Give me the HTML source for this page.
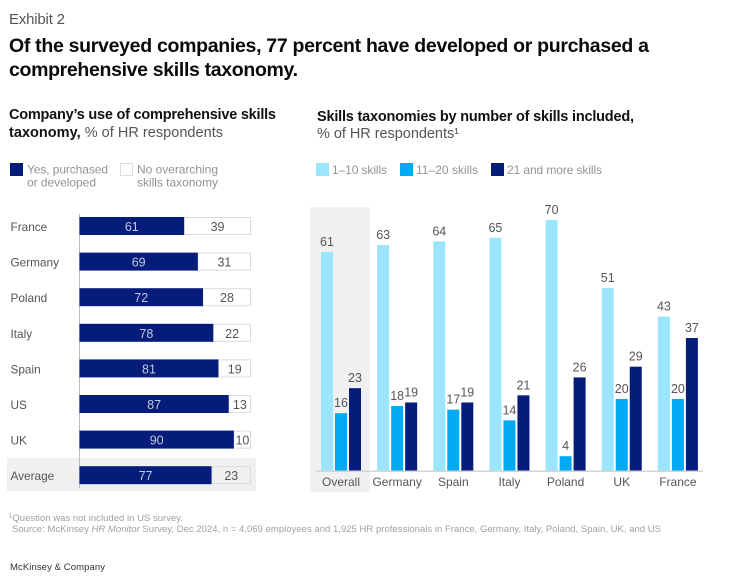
<!DOCTYPE html>
<html lang="en">
<head>
<meta charset="utf-8">
<title>Exhibit 2</title>
<style>
html,body{margin:0;padding:0;background:#fff}
body{width:750px;height:583px;overflow:hidden;position:relative}
svg{position:absolute;left:0;top:0}
text{font-family:"Liberation Sans",sans-serif}
</style>
</head>
<body>
<svg id="chart" width="750" height="583" viewBox="0 0 750 583" xmlns="http://www.w3.org/2000/svg">
  <text x="9" y="24" font-size="15" fill="#555" textLength="56" lengthAdjust="spacing">Exhibit 2</text>
  <text x="9" y="52" font-size="19.5" font-weight="700" fill="#0a0a0a" textLength="640" lengthAdjust="spacing">Of the surveyed companies, 77 percent have developed or purchased a</text>
  <text x="9" y="76" font-size="19.5" font-weight="700" fill="#0a0a0a" textLength="289" lengthAdjust="spacing">comprehensive skills taxonomy.</text>

  <text x="9" y="119" font-size="14.5" font-weight="700" fill="#111" textLength="267" lengthAdjust="spacing">Company’s use of comprehensive skills</text>
  <text x="9" y="137" font-size="14.5" fill="#555" textLength="214" lengthAdjust="spacing"><tspan font-weight="700" fill="#111">taxonomy,</tspan> % of HR respondents</text>

  <rect x="10" y="163" width="13" height="13" fill="#051c7a"/>
  <text x="27" y="173.5" font-size="12" fill="#939393" textLength="81" lengthAdjust="spacing">Yes, purchased</text>
  <text x="27" y="186.5" font-size="12" fill="#939393" textLength="69" lengthAdjust="spacing">or developed</text>
  <rect x="120.5" y="163.5" width="12" height="12" fill="#fff" stroke="#ddd"/>
  <text x="137" y="173.5" font-size="12" fill="#939393" textLength="81" lengthAdjust="spacing">No overarching</text>
  <text x="137" y="186.5" font-size="12" fill="#939393" textLength="81" lengthAdjust="spacing">skills taxonomy</text>

  <text x="317" y="121" font-size="14.5" font-weight="700" fill="#111" textLength="317" lengthAdjust="spacing">Skills taxonomies by number of skills included,</text>
  <text x="317" y="138" font-size="14.5" fill="#555" textLength="142" lengthAdjust="spacing">% of HR respondents¹</text>

  <rect x="316" y="163" width="13" height="13" fill="#9be6fe"/>
  <text x="332" y="174" font-size="12" fill="#939393" textLength="55" lengthAdjust="spacing">1–10 skills</text>
  <rect x="400" y="163" width="13" height="13" fill="#00a9f4"/>
  <text x="416" y="174" font-size="12" fill="#939393" textLength="62" lengthAdjust="spacing">11–20 skills</text>
  <rect x="491" y="163" width="13" height="13" fill="#051c7a"/>
  <text x="507" y="174" font-size="12" fill="#939393" textLength="95" lengthAdjust="spacing">21 and more skills</text>

  <rect x="7" y="458" width="249" height="33" fill="#f0f0f0"/>
  <rect x="310" y="207" width="60" height="285" fill="#f0f0f0"/>
  <line x1="79.5" x2="79.5" y1="214" y2="488" stroke="#bdbdbd" stroke-width="1"/>
  <g id="left-chart"></g>
  <g id="right-chart"></g>

  <text x="9" y="521" font-size="9.5" fill="#a0a0a0" textLength="174" lengthAdjust="spacing"><tspan font-size="6" dy="-3">1</tspan><tspan dy="3">Question was not included in US survey.</tspan></text>
  <text x="12" y="532" font-size="9.5" fill="#a0a0a0" textLength="649" lengthAdjust="spacing">Source: McKinsey <tspan font-style="italic">HR Monitor</tspan> Survey, Dec 2024, n = 4,069 employees and 1,925 HR professionals in France, Germany, Italy, Poland, Spain, UK, and US</text>
  <text x="10" y="570" font-size="9.5" fill="#333" textLength="95" lengthAdjust="spacing">McKinsey &amp; Company</text>
</svg>
<script>
const leftCategories = ['France', 'Germany', 'Poland', 'Italy', 'Spain', 'US', 'UK', 'Average'];
const yesValues = [61, 69, 72, 78, 81, 87, 90, 77];
const noValues = [39, 31, 28, 22, 19, 13, 10, 23];

const rightCategories = ['Overall', 'Germany', 'Spain', 'Italy', 'Poland', 'UK', 'France'];
const lowValues = [61, 63, 64, 65, 70, 51, 43];
const midValues = [16, 18, 17, 14, 4, 20, 20];
const highValues = [23, 19, 19, 21, 26, 29, 37];

const NS = 'http://www.w3.org/2000/svg';
const NAVY = '#051c7a';
const SKY = '#00a9f4';
const PALE = '#9be6fe';

function make(parent, tag, attrs, content) {
  const el = document.createElementNS(NS, tag);
  Object.keys(attrs).forEach(function (k) { el.setAttribute(k, attrs[k]); });
  if (content !== undefined) el.textContent = content;
  parent.appendChild(el);
  return el;
}

// left chart axes
const leftX = function (v) { return 79.5 + v * 1.715; };
const leftY = function (i) { return 217 + i * 35.6; };
const leftGroup = document.getElementById('left-chart');

leftCategories.forEach(function (cat, i) {
  const y = leftY(i);
  const yesEnd = leftX(yesValues[i]);
  const noEnd = leftX(yesValues[i] + noValues[i]);

  const label = make(leftGroup, 'text', { x: 10.5, y: y + 14, 'font-size': 11.8, fill: '#555' }, cat);
  
  

  const noBar = make(leftGroup, 'rect', { x: yesEnd, y: y + 0.5, width: noEnd - yesEnd - 0.5, height: 17, fill: 'none', stroke: '#dcdcdc' });
  
  

  const yesBar = make(leftGroup, 'rect', { x: leftX(0), y: y, width: yesEnd - leftX(0), height: 18, fill: NAVY });
  
  

  const yesText = make(leftGroup, 'text', { x: (leftX(0) + yesEnd) / 2, y: y + 14, 'font-size': 12.5, fill: '#c2c8de', 'text-anchor': 'middle' }, yesValues[i]);
  
  

  const noText = make(leftGroup, 'text', { x: (yesEnd + noEnd) / 2, y: y + 14, 'font-size': 12.5, fill: '#555', 'text-anchor': 'middle' }, noValues[i]);
  
  
});

// right chart axes
const rightY = function (v) { return 470.5 - v * 3.58; };
const groupX = function (i) { return 321 + i * 56.15; };
const rightGroup = document.getElementById('right-chart');
const seriesList = [
  { values: lowValues, color: PALE, offset: 0 },
  { values: midValues, color: SKY, offset: 14 },
  { values: highValues, color: NAVY, offset: 28 }
];

rightCategories.forEach(function (cat, i) {
  seriesList.forEach(function (s) {
    const x = groupX(i) + s.offset;
    const top = rightY(s.values[i]);
    const bar = make(rightGroup, 'rect', { x: x, y: top, width: 12, height: 470.5 - top, fill: s.color });
    
    
    const val = make(rightGroup, 'text', { x: x + 6, y: top - 6, 'font-size': 12.5, fill: '#555', 'text-anchor': 'middle' }, s.values[i]);
    
    
  });
  const catLabel = make(rightGroup, 'text', { x: groupX(i) + 20, y: 486, 'font-size': 12, fill: '#555', 'text-anchor': 'middle' }, cat);
  
  
});

const baseline = make(rightGroup, 'line', { x1: 316, x2: 703, y1: 471.2, y2: 471.2, stroke: '#d5d5d5', 'stroke-width': 1.5 });


</script>
</body>
</html>
